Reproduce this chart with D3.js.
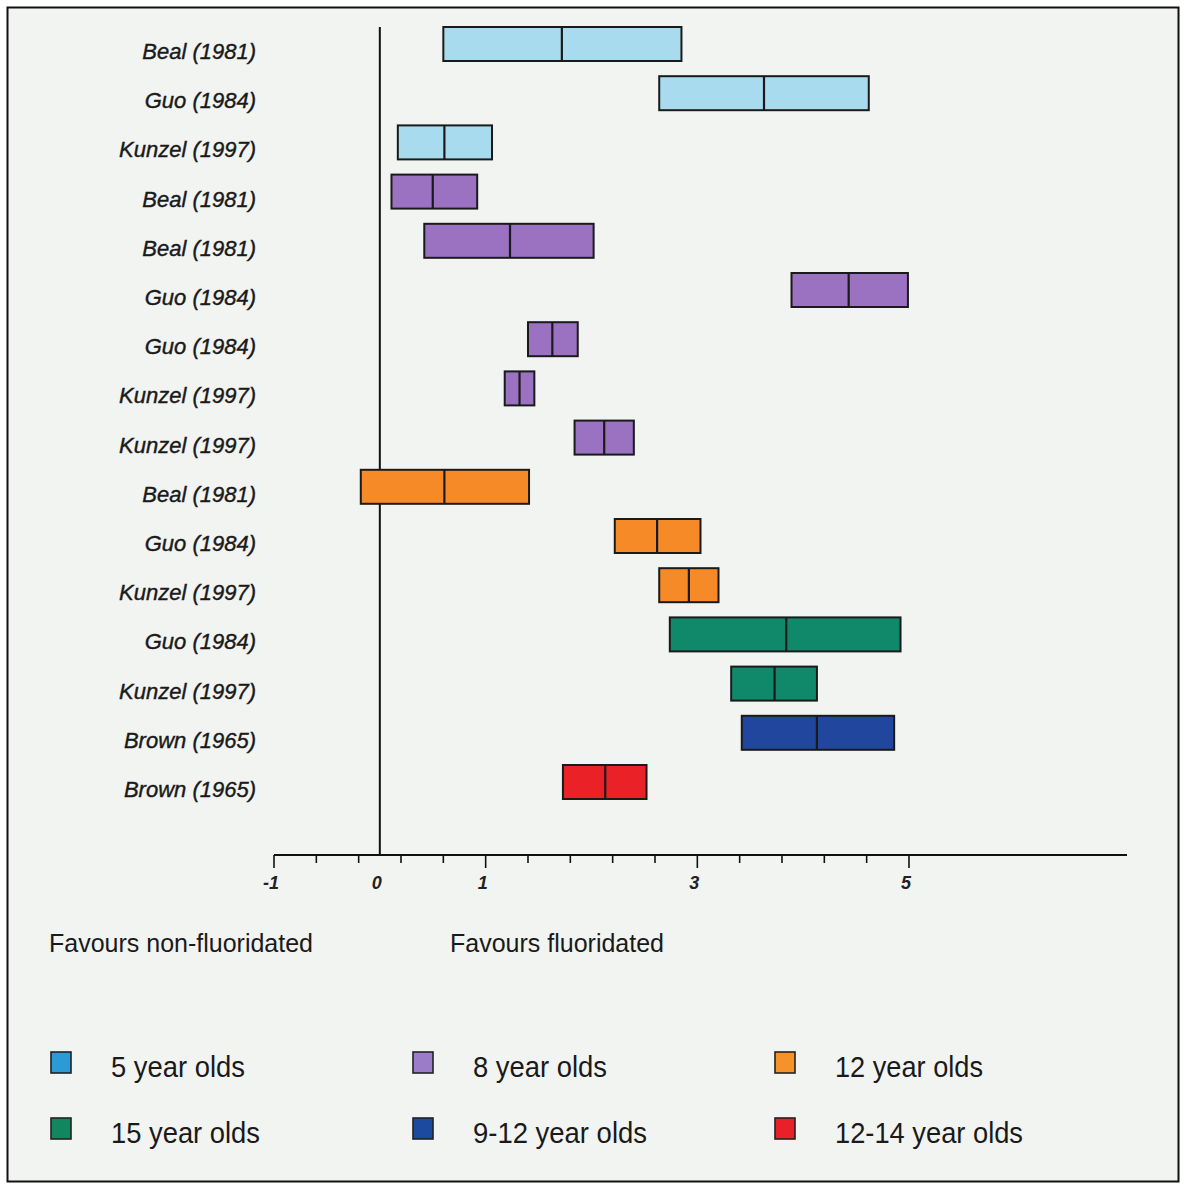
<!DOCTYPE html>
<html><head><meta charset="utf-8">
<script src="https://cdn.jsdelivr.net/npm/d3@7"></script>
<style>
html,body{margin:0;padding:0;background:#fff;}
svg{display:block;}
text{font-family:"Liberation Sans",Arial,sans-serif;}
</style></head>
<body>
<svg id="chart" width="1181" height="1184"></svg>
<script>
const studies = ["Beal (1981)","Guo (1984)","Kunzel (1997)","Beal (1981)","Beal (1981)","Guo (1984)","Guo (1984)","Kunzel (1997)","Kunzel (1997)","Beal (1981)","Guo (1984)","Kunzel (1997)","Guo (1984)","Kunzel (1997)","Brown (1965)","Brown (1965)"];
const groups = ["5","5","5","8","8","8","8","8","8","12","12","12","15","15","9-12","12-14"];
const lower = [0.60,2.64,0.17,0.11,0.42,3.89,1.40,1.18,1.84,-0.18,2.22,2.64,2.74,3.32,3.42,1.73];
const mid   = [1.72,3.63,0.61,0.50,1.23,4.43,1.63,1.32,2.12,0.61,2.62,2.92,3.84,3.73,4.13,2.13];
const upper = [2.85,4.62,1.06,0.92,2.02,4.99,1.87,1.46,2.40,1.41,3.03,3.20,4.92,4.13,4.86,2.52];
const legendKeys = ["5","8","12","15","9-12","12-14"];
const legendLabels = ["5 year olds","8 year olds","12 year olds","15 year olds","9-12 year olds","12-14 year olds"];
const barColors = ["#a8dbee","#9b72c2","#f68a27","#10896a","#21469e","#ea2228"];
const swatchColors = ["#2a9bd6","#9b7cc8","#f5922a","#12875f","#1c4a9f","#e8202a"];
const tickLabels = [-1,0,1,3,5];

const svg = d3.select("#chart");
svg.append("rect").attr("x",0).attr("y",0).attr("width",1181).attr("height",1184).attr("fill","#fff");
svg.append("rect").attr("x",7.5).attr("y",7.5).attr("width",1171).attr("height",1174)
  .attr("fill","#f2f4f2").attr("stroke","#111").attr("stroke-width",2);

const x = d3.scaleLinear().domain([-1,7.06]).range([274,1127]);
const idx = d3.range(studies.length);
const y = d3.scalePoint().domain(idx).range([44,782]);
const barH = 34;
const colorOf = d3.scaleOrdinal().domain(legendKeys).range(barColors);
const swatchOf = d3.scaleOrdinal().domain(legendKeys).range(swatchColors);

const axisY = 855;
svg.append("line").attr("x1",x(0)).attr("x2",x(0)).attr("y1",27).attr("y2",axisY)
  .attr("stroke","#111").attr("stroke-width",2);

const minorTicks = d3.range(0,16).map(i=>-1+i*0.4);
const ax = svg.append("g").attr("transform",`translate(0,${axisY})`);
ax.append("line").attr("x1",x(-1)).attr("x2",1127).attr("y1",0).attr("y2",0).attr("stroke","#111").attr("stroke-width",2);
ax.selectAll("line.t").data(minorTicks).join("line").attr("class","t")
  .attr("x1",d=>x(d)).attr("x2",d=>x(d)).attr("y1",0)
  .attr("y2",(d,i)=> i%5===0 ? 13 : 8)
  .attr("stroke","#111").attr("stroke-width",1.6);
ax.selectAll("text").data(tickLabels).join("text")
  .attr("x",d=>x(d)-3).attr("y",34)
  .attr("text-anchor","middle").attr("font-size",18).attr("font-style","italic").attr("font-weight","bold")
  .attr("fill","#222").text(d=>d);

const rows = svg.append("g");
idx.forEach(i=>{
  const g = rows.append("g");
  g.append("rect").attr("x",x(lower[i])).attr("y",y(i)-barH/2)
    .attr("width",x(upper[i])-x(lower[i])).attr("height",barH)
    .attr("fill",colorOf(groups[i])).attr("stroke","#1a1a1a").attr("stroke-width",2);
  g.append("line").attr("x1",x(mid[i])).attr("x2",x(mid[i]))
    .attr("y1",y(i)-barH/2).attr("y2",y(i)+barH/2).attr("stroke","#1a1a1a").attr("stroke-width",2.2);
  g.append("text").attr("x",256).attr("y",y(i)+7).attr("dy","0.36em")
    .attr("text-anchor","end").attr("font-size",22).attr("font-style","italic")
    .attr("fill","#1a1a1a").attr("stroke","#1a1a1a").attr("stroke-width",0.4).text(studies[i]);
});

svg.append("text").attr("x",49).attr("y",952).attr("font-size",25).attr("fill","#1a1a1a")
  .attr("textLength",264).attr("lengthAdjust","spacingAndGlyphs").text("Favours non-fluoridated");
svg.append("text").attr("x",450).attr("y",952).attr("font-size",25).attr("fill","#1a1a1a")
  .attr("textLength",214).attr("lengthAdjust","spacingAndGlyphs").text("Favours fluoridated");

const legendWidths = [134,134,148,149,174,188];
const lg = svg.append("g");
legendKeys.forEach((k,i)=>{
  const col = i%3, row = Math.floor(i/3);
  const lx = 51 + col*362, ly = 1052 + row*66;
  lg.append("rect").attr("x",lx).attr("y",ly).attr("width",20).attr("height",21)
    .attr("fill",swatchOf(k)).attr("stroke","#222").attr("stroke-width",1.6);
  lg.append("text").attr("x",lx+60).attr("y",ly+15).attr("dy","0.36em")
    .attr("font-size",29).attr("fill","#1a1a1a")
    .attr("textLength",legendWidths[i]).attr("lengthAdjust","spacingAndGlyphs").text(legendLabels[i]);
});
</script>
</body></html>
